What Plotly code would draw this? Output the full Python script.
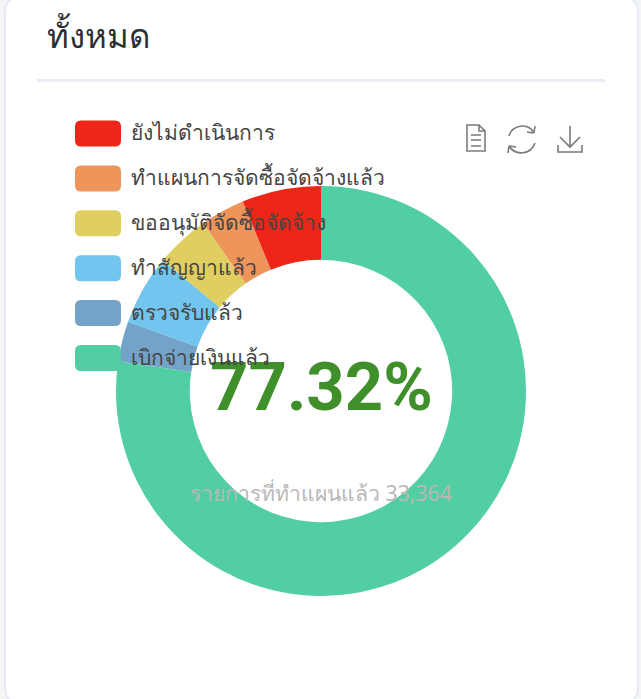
import plotly.graph_objects as go

categories = ["ยังไม่ดำเนินการ", "ทำแผนการจัดซื้อจัดจ้างแล้ว", "ขออนุมัติจัดซื้อจัดจ้าง", "ทำสัญญาแล้ว", "ตรวจรับแล้ว", "เบิกจ่ายเงินแล้ว"]
values = [2080, 1170, 1430, 1830, 1057, 25797]
colors = ["#EE2617", "#EE955C", "#E0CF60", "#71C5EE", "#74A3C9", "#52CEA3"]
title = "ทั้งหมด"
center_value = "77.32%"
center_label = "รายการที่ทำแผนแล้ว 33,364"

W, H = 641, 699
FONT = "Noto Sans, Noto Sans CJK SC, DejaVu Sans, sans-serif"

def px(x): return x / W
def py(y): return 1 - y / H

def rrect(x0, y0, x1, y1, r):
    return (f"M{x0+r},{y0} L{x1-r},{y0} Q{x1},{y0} {x1},{y0+r} L{x1},{y1-r} Q{x1},{y1} {x1-r},{y1} "
            f"L{x0+r},{y1} Q{x0},{y1} {x0},{y1-r} L{x0},{y0+r} Q{x0},{y0} {x0+r},{y0} Z")

# the ring runs clockwise from 12 o'clock in reverse legend order
fig = go.Figure(go.Pie(
    labels=categories[::-1], values=values[::-1], hole=0.64, sort=False, direction="clockwise", rotation=0,
    marker=dict(colors=colors[::-1], line=dict(width=0)), textinfo="none", hoverinfo="label+value+percent",
    domain=dict(x=[px(116), px(526)], y=[py(596), py(186)]),
))

shapes = []
# card
shapes.append(dict(type="path", path=rrect(5, -2, 638, 702, 14), xref="x", yref="y",
                   fillcolor="white", line=dict(color="#E4EAF6", width=2), layer="below"))
# divider
shapes.append(dict(type="line", x0=37, x1=605, y0=80.5, y1=80.5, xref="x", yref="y",
                   line=dict(color="#E8ECF3", width=3), layer="below"))

annotations = [
    dict(text=title, x=45, y=35, xref="x", yref="y", xanchor="left", yanchor="middle", showarrow=False,
         font=dict(family=FONT, size=33, color="#2B2F36", weight=300)),
    dict(text=center_value, x=321, y=387, xref="x", yref="y", xanchor="center", yanchor="middle", showarrow=False,
         font=dict(family="Roboto, sans-serif", size=67, color="#3F8F2B", weight=700)),
    dict(text=center_label, x=320.5, y=492, xref="x", yref="y", xanchor="center", yanchor="middle", showarrow=False,
         font=dict(family=FONT, size=21.2, color="#B8B8B8")),
]

# legend
for i, (name, col) in enumerate(zip(categories, colors)):
    yc = 133.5 + i * 44.9
    shapes.append(dict(type="path", path=rrect(75, yc - 13, 121, yc + 13, 6), xref="x", yref="y",
                       fillcolor=col, line=dict(width=0), layer="above"))
    annotations.append(dict(text=name, x=129, y=yc - 1.5, xref="x", yref="y", xanchor="left", yanchor="middle",
                            showarrow=False, font=dict(family=FONT, size=21, color="#444444")))

# toolbox icons
icon = dict(color="#7A7A7A", width=1.6)
tool_paths = [
    "M467,125 L479,125 L485,131 L485,151 L467,151 Z M479,125 L479,131 L485,131 M471,135 L481,135 M471,140 L481,140 M471,146 L481,146",
    "M509,136 C512,125 528,122 534,133 M534,133 L535,126 M534,133 L527,132 M535,143 C531,155 515,156 509,146 M509,146 L508,153 M509,146 L516,147",
    "M570,126 L570,147 M560,137 L570,147 L580,137 M558,145 L558,152 L582,152 L582,145",
]
for p in tool_paths:
    shapes.append(dict(type="path", path=p, xref="x", yref="y", line=icon, fillcolor="rgba(0,0,0,0)", layer="above"))

fig.update_layout(
    width=W, height=H, autosize=False, showlegend=False,
    margin=dict(l=0, r=0, t=0, b=0),
    paper_bgcolor="#F5F5F6", plot_bgcolor="rgba(0,0,0,0)",
    xaxis=dict(range=[0, W], visible=False, fixedrange=True),
    yaxis=dict(range=[H, 0], visible=False, fixedrange=True),
    shapes=shapes, annotations=annotations,
)
fig.write_html("out.html", config=dict(displayModeBar=False),
               post_script="document.body.style.margin='0';")
